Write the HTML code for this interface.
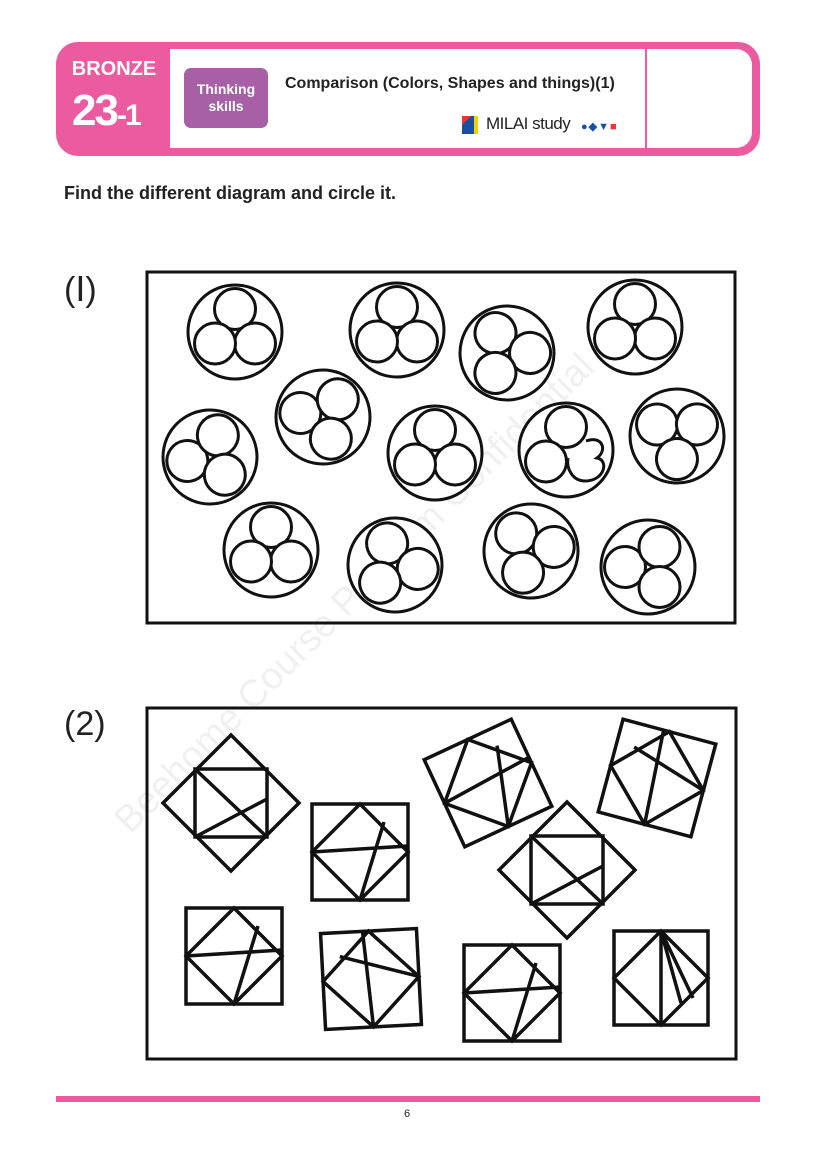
<!DOCTYPE html>
<html><head><meta charset="utf-8"><style>
body{margin:0;width:814px;height:1159px;background:#fff;position:relative;font-family:"Liberation Sans",sans-serif;overflow:hidden}
.abs{position:absolute}
</style></head><body>
<div class="abs" style="left:56px;top:42px;width:704px;height:114px;background:#ec5a9f;border-radius:22px"></div>
<div class="abs" style="left:170px;top:49px;width:582px;height:99px;background:#fff;border-radius:0 16px 16px 0"></div>
<div class="abs" style="left:645px;top:49px;width:2px;height:99px;background:#ec5a9f"></div>
<div class="abs" style="left:66px;top:58px;width:96px;text-align:center;color:#fff;font-weight:bold;font-size:20px;letter-spacing:0px">BRONZE</div>
<div class="abs" style="left:72px;top:86px;color:#fff;font-weight:bold;font-size:44px;letter-spacing:-2px">23<span style="font-size:30px">-1</span></div>
<div class="abs" style="left:184px;top:68px;width:84px;height:60px;background:#a75fa5;border-radius:7px;color:#fff;font-weight:bold;font-size:14px;text-align:center;line-height:17px;padding-top:13px;box-sizing:border-box">Thinking<br>skills</div>
<div class="abs" style="left:285px;top:75px;font-weight:bold;font-size:16px;color:#222">Comparison (Colors, Shapes and things)(1)</div>
<div class="abs" style="left:462px;top:116px;width:12px;height:18px;background:linear-gradient(135deg,#e33 0 30%,#1a4fa0 30%);"></div>
<div class="abs" style="left:474px;top:116px;width:4px;height:18px;background:#f5d000"></div>
<div class="abs" style="left:486px;top:114px;font-size:17px;color:#222;letter-spacing:-0.5px">MILAI study</div>
<div class="abs" style="left:581px;top:120px;font-size:11px;color:#1a4fa0;font-weight:bold;letter-spacing:1px">●◆▼<span style="color:#e33">■</span></div>
<div class="abs" style="left:64px;top:183px;font-weight:bold;font-size:18px;color:#222">Find the different diagram and circle it.</div>
<div class="abs" style="left:64px;top:270px;font-size:34px;color:#222">(Ⅰ)</div>
<div class="abs" style="left:64px;top:705px;font-size:34px;color:#222">(2)</div>
<div class="abs" style="left:56px;top:1096px;width:704px;height:6px;background:#ec5a9f"></div>
<div class="abs" style="left:0;top:1108px;width:814px;text-align:center;font-size:11px;color:#222">6</div>
<svg class="abs" style="left:0;top:0" width="814" height="1159" viewBox="0 0 814 1159">
<defs>
<g id="c3" fill="#fff" stroke="#111" stroke-width="3">
<circle r="47"/><circle cx="0" cy="-23" r="20.5"/><circle cx="20" cy="11.5" r="20.5"/><circle cx="-20" cy="11.5" r="20.5"/>
</g>
<g id="sq" fill="none" stroke="#111" stroke-width="3.5">
<rect x="-48" y="-48" width="96" height="96"/>
<path d="M0,-48 L48,0 L0,48 L-48,0 Z M-48,0 L48,-6 M0,48 L24,-30"/>
</g>
<g id="dm" fill="none" stroke="#111" stroke-width="3.5">
<path d="M0,-68 L68,0 L0,68 L-68,0 Z"/>
<rect x="-36" y="-34" width="72" height="68"/>
<path d="M-36,-34 L36,34 M-36,34 L36,-4"/>
</g>
</defs>
<text x="0" y="0" transform="translate(130,835) rotate(-45)" font-family="Liberation Sans" font-size="38" fill="#000" fill-opacity="0.06">Beehome Course Platform Confidential</text>
<rect x="147" y="272" width="588" height="351" fill="none" stroke="#111" stroke-width="3"/>
<use href="#c3" transform="translate(235,332)"/>
<use href="#c3" transform="translate(397,330)"/>
<use href="#c3" transform="translate(507,353) rotate(-30)"/>
<use href="#c3" transform="translate(635,327)"/>
<use href="#c3" transform="translate(323,417) rotate(-80)"/>
<use href="#c3" transform="translate(210,457) rotate(-100)"/>
<use href="#c3" transform="translate(435,453)"/>
<use href="#c3" transform="translate(677,436) rotate(-60)"/>
<use href="#c3" transform="translate(271,550)"/>
<use href="#c3" transform="translate(395,565) rotate(-20)"/>
<use href="#c3" transform="translate(531,551) rotate(-40)"/>
<use href="#c3" transform="translate(648,567) rotate(-90)"/>
<g fill="#fff" stroke="#111" stroke-width="3" transform="translate(566,450)">
<circle r="47"/><circle cx="0" cy="-23" r="20.5"/><circle cx="-20" cy="11.5" r="20.5"/>
<path d="M20,-9 C36,-15 42,0 31,8 C43,10 39,31 19,31 C7,31 0,19 2,8"/>
</g>
<rect x="147" y="708" width="589" height="351" fill="none" stroke="#111" stroke-width="3"/>
<use href="#dm" transform="translate(231,803)"/>
<use href="#dm" transform="translate(567,870)"/>
<use href="#sq" transform="translate(360,852)"/>
<use href="#sq" transform="translate(488,783) rotate(-25)"/>
<use href="#sq" transform="translate(657,778) rotate(-75)"/>
<use href="#sq" transform="translate(234,956)"/>
<use href="#sq" transform="translate(371,979) rotate(-93)"/>
<use href="#sq" transform="translate(512,993)"/>
<g fill="none" stroke="#111" stroke-width="3.5" transform="translate(661,978)">
<rect x="-47" y="-47" width="94" height="94"/>
<path d="M0,-47 L47,0 L0,47 L-47,0 Z M0,-47 L0,47 M0,-47 L20,25 M0,-47 L32,20"/>
</g>
</svg>
</body></html>
